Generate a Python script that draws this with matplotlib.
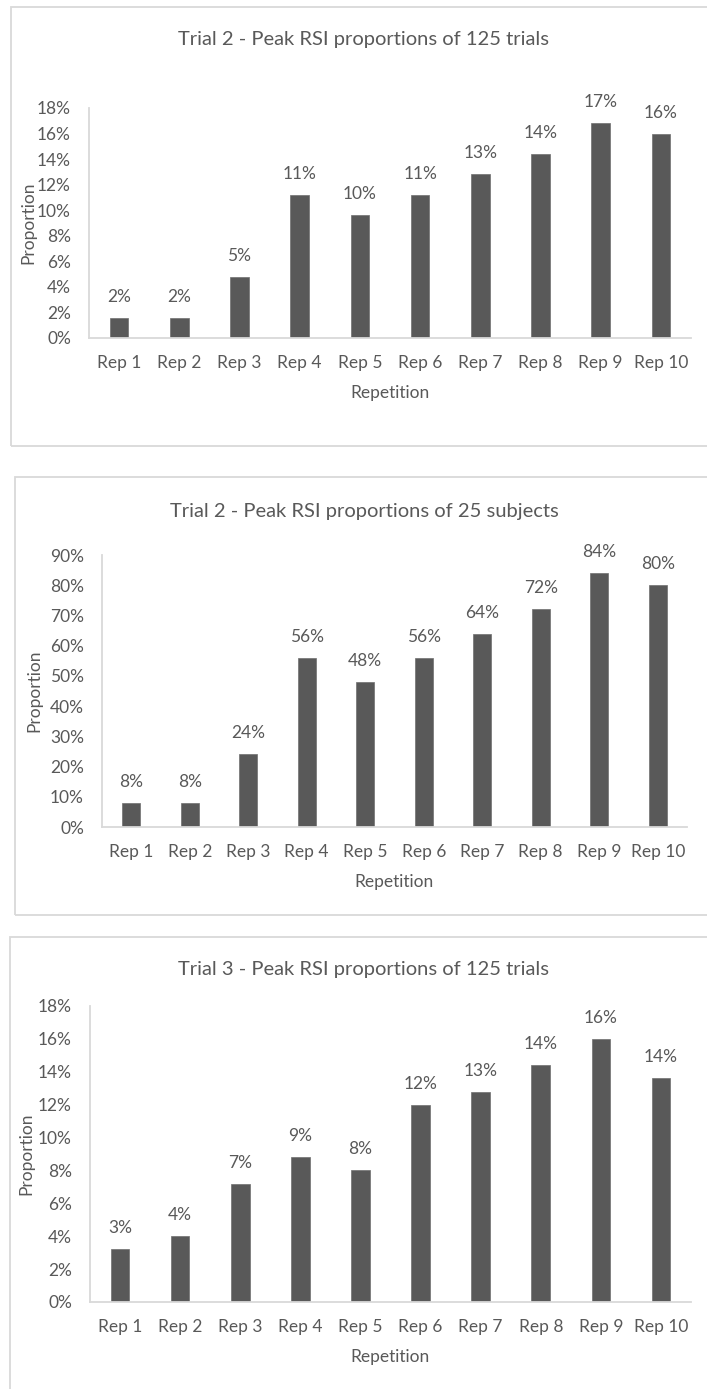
import matplotlib
matplotlib.use("Agg")
import matplotlib.pyplot as plt
from matplotlib.patches import Rectangle
from matplotlib.ticker import PercentFormatter

plt.rcParams['font.family'] = ['Lato', 'DejaVu Sans']

categories = ["Rep 1", "Rep 2", "Rep 3", "Rep 4", "Rep 5", "Rep 6", "Rep 7", "Rep 8", "Rep 9", "Rep 10"]
trial2_trials = [1.6, 1.6, 4.8, 11.2, 9.6, 11.2, 12.8, 14.4, 16.8, 16.0]
trial2_subjects = [8, 8, 24, 56, 48, 56, 64, 72, 84, 80]
trial3_trials = [3.2, 4.0, 7.2, 8.8, 8.0, 12.0, 12.8, 14.4, 16.0, 13.6]
titles = ["Trial 2 - Peak RSI proportions of 125 trials",
          "Trial 2 - Peak RSI proportions of 25 subjects",
          "Trial 3 - Peak RSI proportions of 125 trials"]
ymax = [18, 90, 18]
ystep = [2, 10, 2]
series = [trial2_trials, trial2_subjects, trial3_trials]

W, H = 707, 1389
fig = plt.figure(figsize=(W / 100, H / 100), dpi=100)

TXT = '#595959'
BAR = '#595959'
LINE = '#d9d9d9'

# layout in pixels: axes (left, right, top, bottom), box (left, top, bottom), title y, xlabel y, ylabel x
layouts = [
    dict(ax=(89, 691, 108, 338), box=(11, 7, 446), ty=40, xl=393, yl=28),
    dict(ax=(102, 687, 555, 827), box=(15, 477, 915), ty=512, xl=882, yl=34),
    dict(ax=(90, 691, 1006, 1302), box=(10, 937, 1400), ty=970, xl=1357, yl=26),
]

for vals, title, ym, ys, L in zip(series, titles, ymax, ystep, layouts):
    l, r, t, b = L['ax']
    bl, bt, bb = L['box']
    # panel border
    fig.patches.append(Rectangle((bl / W, 1 - bb / H), (W + 20 - bl) / W, (bb - bt) / H,
                                 transform=fig.transFigure, fill=False,
                                 edgecolor=LINE, linewidth=1.3, clip_on=False))
    ax = fig.add_axes([l / W, 1 - b / H, (r - l) / W, (b - t) / H])
    x = list(range(len(categories)))
    ax.bar(x, vals, width=0.31, color=BAR, edgecolor='#6f6f6f', linewidth=0.5)
    ax.set_xlim(-0.5, len(categories) - 0.5)
    ax.set_ylim(0, ym)
    ax.set_yticks(list(range(0, ym + 1, ys)))
    ax.yaxis.set_major_formatter(PercentFormatter(100, decimals=0))
    ax.set_xticks(x)
    ax.set_xticklabels(categories)
    for s in ['top', 'right']:
        ax.spines[s].set_visible(False)
    for s in ['left', 'bottom']:
        ax.spines[s].set_color(LINE)
        ax.spines[s].set_linewidth(1.3)
    ax.tick_params(axis='both', length=0, labelsize=12.5, colors=TXT)
    ax.tick_params(axis='y', pad=13)
    ax.tick_params(axis='x', pad=12)
    for xi, v in zip(x, vals):
        ax.annotate(f"{v:.0f}%", (xi, v), xytext=(0, 21), textcoords='offset pixels',
                    ha='center', va='center', fontsize=12.5, color=TXT)
    fig.text(364 / W, 1 - L['ty'] / H, title, ha='center', va='center', fontsize=14.5, color=TXT)
    fig.text(((l + r) / 2) / W, 1 - L['xl'] / H, "Repetition", ha='center', va='center',
             fontsize=12.5, color=TXT)
    fig.text(L['yl'] / W, 1 - ((t + b) / 2) / H, "Proportion", ha='center', va='center',
             rotation=90, fontsize=12.5, color=TXT)

fig.savefig("out.png", dpi=100, facecolor='white')
